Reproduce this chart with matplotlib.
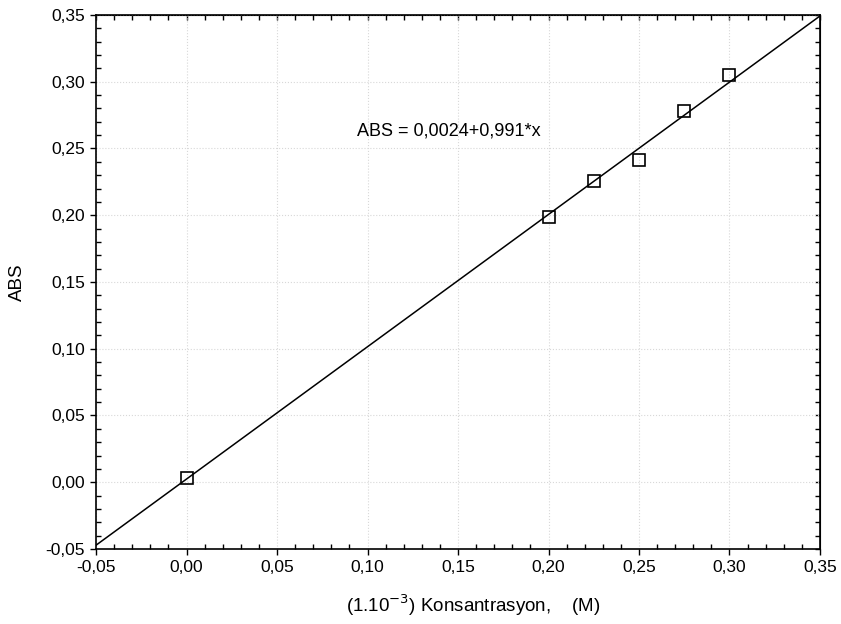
import numpy as np
import matplotlib.pyplot as plt
from matplotlib.ticker import MultipleLocator, FuncFormatter

plt.rcParams['font.family'] = ['Liberation Sans', 'DejaVu Sans']

# Measured absorbance vs concentration
conc = [0.000, 0.200, 0.225, 0.250, 0.275, 0.300]
absorb = [0.0035, 0.1985, 0.2255, 0.2410, 0.2780, 0.3050]

# Linear fit coefficients
intercept = 0.0024
slope = 0.991

comma = FuncFormatter(lambda v, pos: f"{v:.2f}".replace('.', ','))

fig = plt.figure(figsize=(8.41, 6.24), dpi=100)
ax = fig.add_axes([0.1142, 0.1202, 0.8608, 0.8558])

xfit = np.array([-0.05, 0.35])
ax.plot(xfit, intercept + slope * xfit, color='black', lw=1.1, zorder=3)
ax.plot(conc, absorb, linestyle='none', marker='s', markersize=8.5,
        markerfacecolor='none', markeredgecolor='black', markeredgewidth=1.2, zorder=4)

ax.text(0.0942, 0.263, f"ABS = {intercept:.4f}+{slope:.3f}*x".replace('.', ','),
        fontsize=13, va='center', ha='left')

ax.set_xlim(-0.05, 0.35)
ax.set_ylim(-0.05, 0.35)
for axis in (ax.xaxis, ax.yaxis):
    axis.set_major_locator(MultipleLocator(0.05))
    axis.set_minor_locator(MultipleLocator(0.01))
    axis.set_major_formatter(comma)

ax.grid(True, which='major', color='#d8d8d8', linestyle=':', linewidth=0.8)
ax.tick_params(which='major', direction='out', length=4, width=1, labelsize=12.5, pad=4)
ax.tick_params(which='minor', direction='in', length=3.5, width=1)

# frame ticks on the top and right sides point inward
top = ax.secondary_xaxis('top')
right = ax.secondary_yaxis('right')
for sec, axis in ((top, top.xaxis), (right, right.yaxis)):
    axis.set_major_locator(MultipleLocator(0.05))
    axis.set_minor_locator(MultipleLocator(0.01))
    sec.tick_params(which='both', direction='in', length=3.5, width=1, labelleft=False,
                    labelright=False, labeltop=False)

for sp in ax.spines.values():
    sp.set_linewidth(1.2)

ax.set_xlabel("(1.10$^{-3}$) Konsantrasyon,    (M)", fontsize=13.5)
ax.xaxis.set_label_coords(0.521, -0.082)
ax.set_ylabel("ABS", fontsize=13.5, labelpad=14)

fig.savefig('out.png', dpi=100)
